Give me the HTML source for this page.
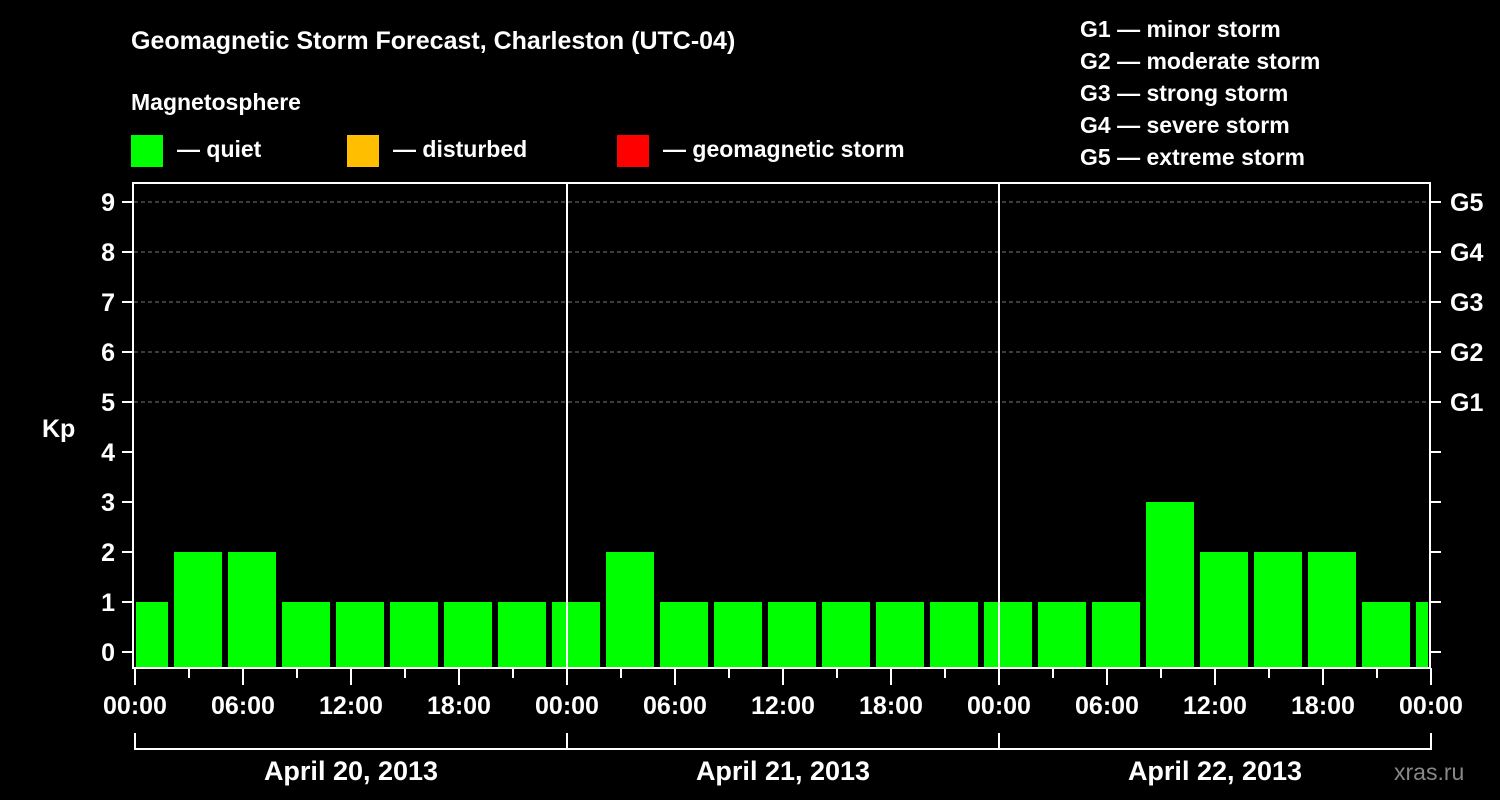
<!DOCTYPE html>
<html><head><meta charset="utf-8"><style>
body{margin:0;background:#000;width:1500px;height:800px;overflow:hidden}
svg{display:block;font-family:"Liberation Sans",Arial,sans-serif;font-weight:bold}
</style></head><body>
<svg id="c" width="1500" height="800">
<text x="131" y="49" fill="#fff" font-size="25">Geomagnetic Storm Forecast, Charleston (UTC-04)</text>
<text x="131" y="110" fill="#fff" font-size="23">Magnetosphere</text>
<g><rect x="131" y="135" width="32" height="32" fill="#00ff00"/><text x="177" y="157" fill="#fff" font-size="23">— quiet</text></g>
<g><rect x="347" y="135" width="32" height="32" fill="#ffbf00"/><text x="393" y="157" fill="#fff" font-size="23">— disturbed</text></g>
<g><rect x="617" y="135" width="32" height="32" fill="#ff0000"/><text x="663" y="157" fill="#fff" font-size="23">— geomagnetic storm</text></g>
<g fill="#fff" font-size="23">
<text x="1080" y="37">G1 — minor storm</text><text x="1080" y="69">G2 — moderate storm</text><text x="1080" y="101">G3 — strong storm</text><text x="1080" y="133">G4 — severe storm</text><text x="1080" y="165">G5 — extreme storm</text></g>
<text x="42" y="437" fill="#fff" font-size="25">Kp</text>
<text x="1394" y="780" fill="#888" font-size="23" font-weight="normal">xras.ru</text>
<defs><clipPath id="pc"><rect x="136" y="183" width="1292" height="486"/></clipPath></defs>
<g id="grid"></g><g id="bars" clip-path="url(#pc)"></g><g id="axes"></g>
</svg>
<script>
const kpValues=[1,2,2,1,1,1,1,1,1,2,1,1,1,1,1,1,1,1,1,3,2,2,2,1,1];
const yTicks=[0,1,2,3,4,5,6,7,8,9];
const gLabels=["G1","G2","G3","G4","G5"];
const xTickLabels=["00:00","06:00","12:00","18:00","00:00","06:00","12:00","18:00","00:00","06:00","12:00","18:00","00:00"];
const dayLabels=["April 20, 2013","April 21, 2013","April 22, 2013"];
const NS="http://www.w3.org/2000/svg";
const X=h=>135+18*h, Y=v=>652-50*v;
function mk(p,t,a){const e=document.createElementNS(NS,t);for(const k in a)e.setAttribute(k,a[k]);p.appendChild(e);return e;}
const grid=document.getElementById('grid'),bars=document.getElementById('bars'),axes=document.getElementById('axes');
for(let v=5;v<=9;v++){const l=mk(grid,'line',{x1:134,x2:1430,y1:Y(v),y2:Y(v),stroke:'#777','stroke-dasharray':'4,3'});

}
kpValues.forEach((v,i)=>{const s=-1+3*i;const col=v>=5?'#ff0000':(v>=4?'#ffbf00':'#00ff00');
const r=mk(bars,'rect',{x:X(s+1/6),y:Y(v),width:X(s+3-1/6)-X(s+1/6),height:668-Y(v),fill:col});

});
mk(axes,'rect',{x:133,y:183,width:1297,height:485,fill:'none',stroke:'#fff','stroke-width':2});
[24,48].forEach(h=>mk(axes,'line',{x1:X(h),x2:X(h),y1:183,y2:668,stroke:'#fff','stroke-width':2}));
yTicks.forEach(v=>{mk(axes,'line',{x1:122,x2:133,y1:Y(v),y2:Y(v),stroke:'#fff','stroke-width':2});
mk(axes,'line',{x1:1430,x2:1441,y1:Y(v),y2:Y(v),stroke:'#fff','stroke-width':2});
const t=mk(axes,'text',{x:115,y:Y(v)+9,fill:'#fff','font-size':25,'text-anchor':'end'});t.textContent=v;

});
gLabels.forEach((g,i)=>{const t=mk(axes,'text',{x:1450,y:Y(5+i)+9,fill:'#fff','font-size':25});t.textContent=g;

});
for(let h=0;h<=72;h+=3){mk(axes,'line',{x1:X(h),x2:X(h),y1:668,y2:h%6==0?685:678,stroke:'#fff','stroke-width':2});}
xTickLabels.forEach((s,i)=>{const t=mk(axes,'text',{x:X(6*i),y:714,fill:'#fff','font-size':25,'text-anchor':'middle'});t.textContent=s;

});
mk(axes,'line',{x1:X(0),x2:X(72),y1:749,y2:749,stroke:'#fff','stroke-width':2});
[0,24,48,72].forEach(h=>mk(axes,'line',{x1:X(h),x2:X(h),y1:733,y2:750,stroke:'#fff','stroke-width':2}));
dayLabels.forEach((d,i)=>{const t=mk(axes,'text',{x:X(24*i+12),y:780,fill:'#fff','font-size':27,'text-anchor':'middle'});t.textContent=d;

});
</script>
</body></html>
